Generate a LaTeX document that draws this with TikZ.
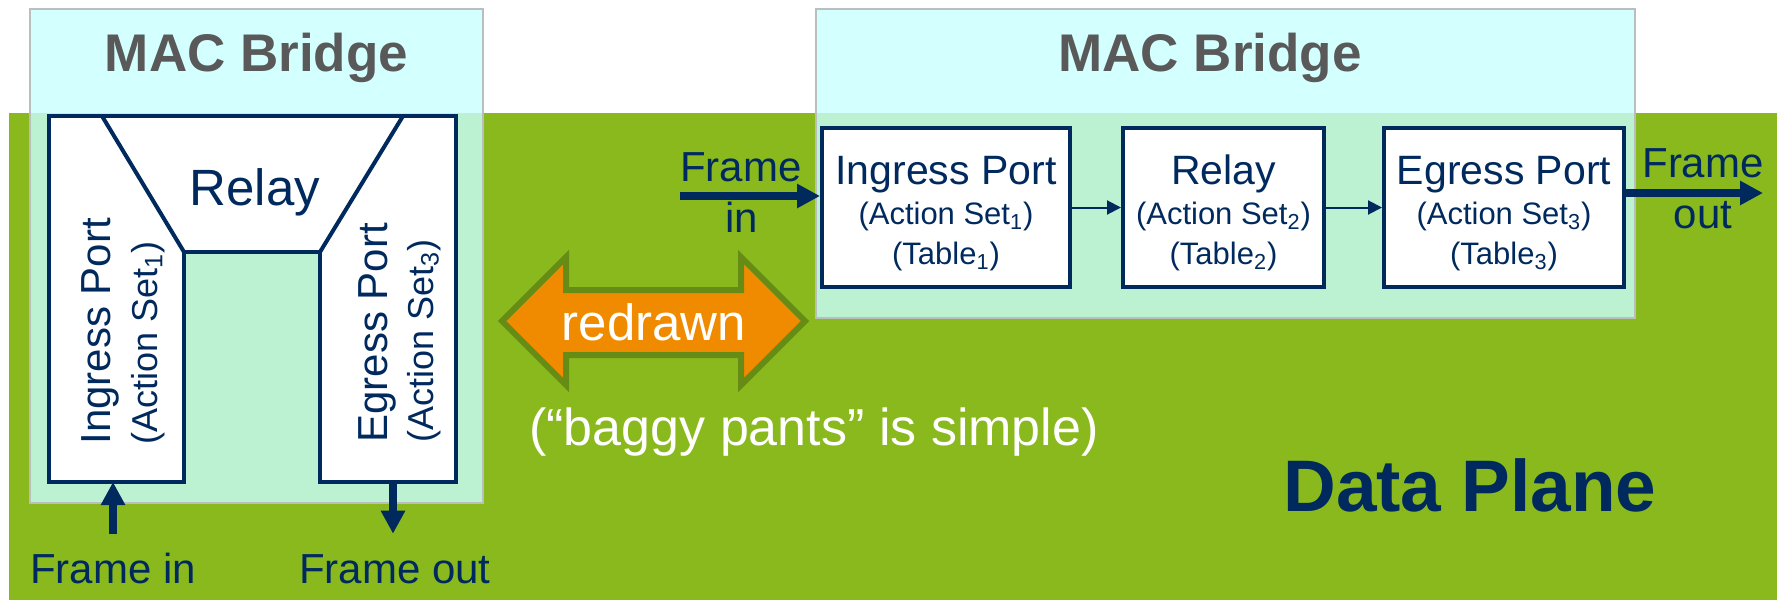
\documentclass[tikz,border=0pt]{standalone}
\usepackage{fontspec}
\setmainfont{Liberation Sans}
\usetikzlibrary{arrows.meta}
\definecolor{navy}{RGB}{0,42,94}
\definecolor{plane}{RGB}{137,185,28}
\definecolor{bridgefill}{RGB}{201,255,255}
\definecolor{bridgeline}{RGB}{185,190,190}
\definecolor{titlegray}{RGB}{89,89,89}
\definecolor{orangefill}{RGB}{240,139,0}
\definecolor{orangeline}{RGB}{102,140,22}
\newcommand\fsz[1]{\fontsize{#1pt}{1.2\dimexpr#1pt\relax}\selectfont}
\newcommand\subfs{\fontsize{15.5pt}{20pt}\selectfont}
\newcommand\topstrut{\rule{0pt}{20pt}}
\begin{document}
\begin{tikzpicture}[x=0.5pt,y=-0.5pt,
  bridge/.style={fill=bridgefill, fill opacity=0.8, draw=bridgeline, line width=1pt},
  lbl/.style={inner sep=0pt, anchor=base, text=navy},
  title/.style={inner sep=0pt, anchor=base, text=titlegray, font=\bfseries\fsz{26.5}},
  pline/.style={draw=navy, line width=2pt, line join=miter},
  pbox/.style={draw=navy, line width=2pt, fill=white, align=center, text=navy,
     minimum height=79.5pt, inner sep=0pt, font=\fontsize{20.5pt}{20pt}\selectfont},
  bigarrow/.style={draw=navy, line width=4pt, -{Triangle[length=11.5pt,width=11.5pt]}},
  smallarrow/.style={draw=navy, line width=1pt, -{Triangle[length=7pt,width=7pt]}}]
\useasboundingbox (0,0) rectangle (1777,600);
\fill[white] (0,0) rectangle (1777,600);
\fill[plane] (9,113) rectangle (1777,600);
% bridge boxes
\draw[bridge] (30,9) rectangle (483,503);
\draw[bridge] (816,9) rectangle (1635,318);
\node[title] (macL) at (256.5,71) {MAC Bridge};
\node[title] (macR) at (1210,71) {MAC Bridge};
% baggy pants
\draw[pline, fill=white] (49,116) -- (456,116) -- (456,482) -- (320,482) -- (320,252)
   -- (184,252) -- (184,482) -- (49,482) -- cycle;
\draw[pline] (102,116) -- (184,252) (403,116) -- (320,252);
\node[lbl, font=\fsz{25.5}] (relL) at (255,205) {Relay};
\node[lbl, rotate=90, anchor=base west, font=\fsz{21}] (ingL1) at (110,445) {Ingress Port};
\node[lbl, rotate=90, anchor=base west, font=\fsz{18}] (ingL2) at (157,445) {(Action Set\textsubscript{1})};
\node[lbl, rotate=90, anchor=base west, font=\fsz{21}] (egrL1) at (387,443) {Egress Port};
\node[lbl, rotate=90, anchor=base west, font=\fsz{18}] (egrL2) at (433,443) {(Action Set\textsubscript{3})};
\coordinate (ingLeg) at (113,482);
\coordinate (egrLeg) at (393,482);
\node[lbl, font=\fsz{21}] (finL) at (113,583) {Frame in};
\node[lbl, font=\fsz{21}] (foutL) at (395,583) {Frame out};
\draw[bigarrow, shorten <=9pt] (finL.north) -- (finL.north |- ingLeg);
\draw[bigarrow, shorten >=10pt] (egrLeg) -- (egrLeg |- foutL.north);
% redrawn arrow
\draw[fill=orangefill, draw=orangeline, line width=3pt, line join=miter]
  (502,321) -- (566,257) -- (566,290) -- (741,290) -- (741,257) -- (805,321)
  -- (741,385) -- (741,355) -- (566,355) -- (566,385) -- cycle;
\node[lbl, text=white, font=\fsz{25.5}] (redrawn) at (654,340) {redrawn};
\node[lbl, text=white, font=\fsz{26}] (baggy) at (814,445) {(“baggy pants” is simple)};
% pipeline
\node[pbox, minimum width=124pt] (ing) at (946,207.5)
  {\topstrut Ingress Port\\\subfs(Action Set\textsubscript{1})\\\subfs(Table\textsubscript{1})};
\node[pbox, minimum width=100.5pt] (rel) at (1223.5,207.5)
  {\topstrut Relay\\\subfs(Action Set\textsubscript{2})\\\subfs(Table\textsubscript{2})};
\node[pbox, minimum width=120pt] (egr) at (1504,207.5)
  {\topstrut Egress Port\\\subfs(Action Set\textsubscript{3})\\\subfs(Table\textsubscript{3})};
\draw[smallarrow] (ing.east) -- (rel.west);
\draw[smallarrow] (rel.east) -- (egr.west);
\coordinate (rinTail) at (680,196);
\coordinate (routTip) at (1763,193);
\draw[bigarrow] (rinTail) -- (rinTail -| ing.west);
\draw[bigarrow] (egr.east |- routTip) -- (routTip);
\node[lbl, font=\fsz{21}] (frIn1) at (741,181) {Frame};
\node[lbl, font=\fsz{21}] (frIn2) at (742,232) {in};
\node[lbl, font=\fsz{21}] (frOut1) at (1703,177) {Frame};
\node[lbl, font=\fsz{21}] (frOut2) at (1703,228) {out};
\node[lbl, font=\bfseries\fsz{36.5}] (dp) at (1470,511) {Data Plane};
\end{tikzpicture}
\end{document}
